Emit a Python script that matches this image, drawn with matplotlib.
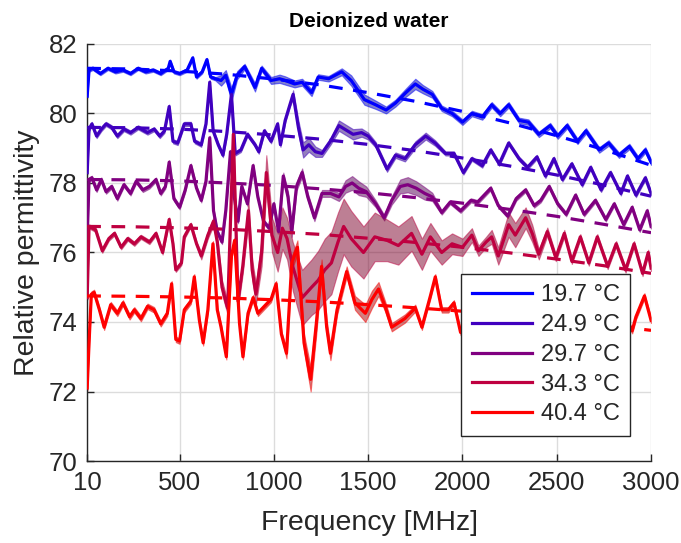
import numpy as np
import matplotlib
matplotlib.use('Agg')
import matplotlib.pyplot as plt
from matplotlib.colors import to_rgb

plt.rcParams['font.family'] = ['Liberation Sans', 'DejaVu Sans']

# temperature labels and line colours (blue -> red)
labels = ['19.7 °C', '24.9 °C', '29.7 °C', '34.3 °C', '40.4 °C']
colors = ['#0000FF', '#4000BF', '#800080', '#BF0040', '#FF0000']

# measured permittivity, 19.7 °C
f_197 = [10, 20, 40, 80, 120, 160, 200, 240, 280, 320, 360, 400, 440, 450, 470, 500, 540, 570, 590, 620,
         645, 665, 690, 720, 745, 775, 805, 845, 900, 935, 985, 1030, 1060, 1110, 1150, 1200, 1235, 1290, 1360, 1410,
         1480, 1540, 1595, 1645, 1700, 1750, 1790, 1840, 1890, 1945, 2000, 2050, 2105, 2155, 2200, 2245, 2300, 2350, 2405, 2465,
         2505, 2555, 2610, 2655, 2725, 2775, 2830, 2885, 2930, 2970, 3000]
e_197 = [80.5, 81.25, 81.3, 81.15, 81.3, 81.2, 81.25, 81.15, 81.3, 81.2, 81.25, 81.15, 81.3, 81.5, 81.2, 81.15, 81.25, 81.6, 81.05, 81.2,
         81.55, 81.05, 81.0, 80.95, 81.1, 80.55, 81.1, 81.35, 80.75, 81.3, 80.95, 81.0, 80.95, 80.85, 80.9, 80.6, 81.05, 81.0, 81.2, 80.95,
         80.4, 80.25, 80.1, 80.3, 80.6, 80.85, 80.7, 80.55, 80.15, 80.0, 79.75, 80.0, 79.9, 80.25, 80.0, 80.25, 79.8, 79.75, 79.4, 79.65,
         79.35, 79.65, 79.2, 79.5, 78.95, 79.15, 78.8, 79.05, 78.7, 78.95, 78.6]
s_197 = [0.05] * 23 + [0.15, 0.15, 0.2, 0.12, 0.08, 0.12, 0.08, 0.1, 0.12, 0.12, 0.1, 0.1, 0.1, 0.08, 0.08,
                       0.1, 0.15, 0.15, 0.12, 0.1, 0.1, 0.12, 0.15, 0.12, 0.1] + [0.08] * 23

# measured permittivity, 24.9 °C
f_249 = [10, 20, 35, 60, 85, 110, 140, 170, 205, 240, 280, 330, 365, 395, 420, 445, 465, 490, 525, 560,
         580, 615, 640, 660, 678, 705, 730, 750, 775, 795, 825, 860, 900, 920, 950, 985, 1020, 1035, 1060, 1085,
         1102, 1130, 1155, 1185, 1220, 1255, 1300, 1345, 1390, 1420, 1465, 1500, 1540, 1600, 1645, 1695, 1750, 1805, 1855, 1910,
         1955, 2005, 2050, 2105, 2150, 2195, 2245, 2300, 2345, 2395, 2440, 2485, 2530, 2580, 2635, 2680, 2735, 2785, 2840, 2875,
         2920, 2970, 3000]
e_249 = [78.3, 79.55, 79.7, 79.35, 79.55, 79.7, 79.6, 79.35, 79.55, 79.45, 79.6, 79.45, 79.55, 79.35, 79.5, 80.2, 79.2, 79.15, 79.7, 79.7,
         79.2, 79.1, 79.7, 80.9, 79.5, 79.1, 78.8, 79.4, 80.55, 78.85, 78.95, 79.4, 79.1, 78.9, 79.5, 79.2, 79.7, 79.1, 79.8, 80.25,
         80.55, 79.6, 78.95, 79.1, 78.9, 78.85, 79.2, 79.65, 79.5, 79.4, 79.45, 79.35, 79.1, 78.4, 78.8, 78.7, 79.1, 79.35, 79.15, 78.85,
         78.85, 78.3, 78.7, 78.5, 78.95, 78.55, 79.15, 78.7, 78.45, 78.75, 78.2, 78.7, 78.1, 78.55, 77.95, 78.45, 77.8, 78.3, 77.7, 78.2,
         77.65, 78.15, 77.7]
s_249 = [0.06] * 40 + [0.12, 0.2, 0.22, 0.2, 0.15, 0.1, 0.1, 0.15, 0.15, 0.15,
                       0.12, 0.1, 0.08, 0.08, 0.08, 0.08, 0.1, 0.1, 0.08, 0.06] + [0.06] * 23

# measured permittivity, 29.7 °C
f_297 = [10, 20, 35, 60, 85, 110, 140, 170, 205, 240, 270, 305, 340, 375, 400, 425, 445, 470, 500, 530,
         560, 590, 615, 640, 660, 680, 700, 725, 745, 770, 790, 810, 830, 860, 890, 915, 945, 975, 1000, 1025,
         1050, 1075, 1095, 1120, 1150, 1180, 1215, 1255, 1300, 1345, 1380, 1415, 1450, 1490, 1540, 1585, 1625, 1670, 1710, 1755,
         1800, 1840, 1890, 1935, 1990, 2045, 2080, 2150, 2190, 2240, 2285, 2335, 2380, 2415, 2460, 2505, 2550, 2600, 2645, 2705,
         2760, 2805, 2855, 2900, 2940, 2980, 3000]
e_297 = [76.4, 78.1, 78.15, 77.8, 78.1, 77.75, 77.9, 77.55, 77.95, 77.7, 78.05, 77.8, 77.9, 78.1, 77.7, 77.9, 78.6, 77.55, 77.3, 77.8,
         78.5, 77.85, 77.5, 78.05, 79.3, 77.2, 76.6, 76.3, 77.2, 78.9, 77.6, 76.9, 77.9, 77.4, 78.5, 77.6, 76.9, 76.7, 77.4, 76.6,
         78.2, 77.6, 76.6, 77.9, 78.3, 77.6, 77.0, 77.7, 77.7, 77.6, 77.9, 78.0, 77.85, 77.75, 77.4, 77.0, 77.5, 77.9, 77.95, 77.85,
         77.7, 77.6, 77.15, 77.45, 77.2, 77.5, 77.45, 77.85, 77.35, 77.05, 77.55, 77.8, 77.35, 77.5, 77.9, 77.4, 77.1, 77.65, 77.1, 77.5,
         76.95, 77.4, 76.8, 77.3, 76.65, 77.2, 76.75]
s_297 = [0.06] * 40 + [0.1, 0.15, 0.15, 0.12, 0.12, 0.1, 0.1, 0.1, 0.1, 0.12,
                       0.18, 0.2, 0.2, 0.15, 0.1, 0.08, 0.12, 0.2, 0.22, 0.2, 0.18, 0.12] + [0.06] * 25

# measured permittivity, 34.3 °C
f_343 = [10, 20, 55, 90, 125, 155, 190, 225, 260, 295, 340, 375, 410, 445, 465, 480, 510, 525, 560, 590,
         615, 650, 680, 700, 725, 755, 785, 810, 835, 865, 885, 905, 935, 960, 990, 1020, 1045, 1070, 1100, 1150,
         1200, 1235, 1270, 1305, 1340, 1370, 1410, 1475, 1535, 1600, 1660, 1730, 1785, 1830, 1890, 1945, 2000, 2050, 2085, 2125,
         2155, 2190, 2245, 2280, 2335, 2370, 2405, 2450, 2495, 2540, 2580, 2625, 2670, 2715, 2770, 2815, 2865, 2910, 2955, 2985,
         3000]
e_343 = [74.7, 76.75, 76.65, 76.05, 76.4, 76.55, 76.15, 76.4, 76.25, 76.45, 76.3, 76.55, 76.0, 76.95, 76.25, 75.5, 75.7, 76.45, 76.8, 76.25,
         75.9, 76.5, 76.9, 76.3, 75.0, 74.4, 79.4, 74.6, 75.6, 77.2, 75.5, 74.8, 76.0, 78.3, 76.5, 76.0, 76.7, 76.4, 75.6, 74.7,
         75.0, 75.2, 75.5, 75.7, 76.3, 76.75, 76.4, 76.0, 76.45, 76.35, 76.2, 76.55, 75.95, 76.45, 76.0, 76.25, 76.15, 76.5, 76.05, 76.3,
         76.45, 75.9, 76.8, 76.5, 77.0, 76.55, 75.95, 76.6, 75.85, 76.55, 75.75, 76.45, 75.7, 76.45, 75.6, 76.25, 75.5, 76.25, 75.4, 76.0,
         75.55]
s_343 = [0.06] * 20 + [0.1, 0.1, 0.12, 0.15, 0.2, 0.2, 0.15, 0.2, 0.2, 0.3,
                       0.3, 0.3, 0.4, 0.5, 0.5, 0.55, 0.6, 0.6, 0.7, 0.8,
                       0.8, 0.85, 0.9, 0.9, 0.85, 0.8, 0.8, 0.75, 0.7, 0.6,
                       0.55, 0.5, 0.45, 0.4, 0.35, 0.3, 0.25, 0.2, 0.15, 0.15,
                       0.2, 0.25, 0.35, 0.35, 0.3, 0.25, 0.15, 0.12, 0.1, 0.1] + [0.08] * 11

# measured permittivity, 40.4 °C
f_404 = [10, 20, 32, 47, 75, 100, 135, 170, 200, 235, 260, 295, 330, 365, 400, 435, 458, 480, 500, 525,
         560, 578, 605, 625, 650, 677, 700, 720, 748, 775, 792, 818, 836, 863, 890, 915, 950, 985, 1012, 1040,
         1067, 1095, 1125, 1160, 1195, 1225, 1253, 1280, 1300, 1335, 1365, 1386, 1430, 1485, 1520, 1555, 1590, 1625, 1695, 1750,
         1785, 1830, 1856, 1890, 1925, 1955, 1990, 2050, 2100, 2150, 2200, 2250, 2300, 2350, 2400, 2450, 2500, 2550, 2600, 2650,
         2700, 2750, 2800, 2850, 2900, 2920, 2965, 3000]
e_404 = [72.1, 73.4, 74.8, 74.85, 74.35, 73.85, 74.5, 74.25, 74.55, 74.15, 74.35, 74.1, 74.45, 74.35, 73.95, 74.25, 75.1, 73.5, 73.45, 74.35,
         74.6, 75.3, 74.05, 73.4, 74.35, 76.25, 74.35, 73.85, 73.0, 75.9, 76.35, 73.95, 73.0, 74.25, 74.7, 74.25, 74.45, 74.65, 75.1, 73.65,
         73.1, 75.7, 76.15, 73.4, 72.35, 73.95, 75.6, 73.85, 73.1, 74.35, 75.0, 75.45, 74.55, 74.25, 74.65, 74.95, 74.45, 73.85, 74.1, 74.4,
         73.85, 74.75, 75.3, 74.35, 74.35, 74.55, 73.7, 74.3, 73.9, 74.4, 74.0, 74.5, 73.9, 74.4, 73.85, 74.45, 73.8, 74.4, 73.8, 74.3,
         73.75, 74.3, 73.7, 74.25, 73.75, 74.15, 74.75, 74.05]
s_404 = [0.08] * 40 + [0.15, 0.2, 0.2, 0.25, 0.35, 0.3, 0.2, 0.2, 0.2, 0.15,
                       0.15, 0.15, 0.2, 0.25, 0.25, 0.2, 0.15, 0.12, 0.12, 0.1] + [0.08] * 28

# model curves (dashed)
f_model = [10, 250, 500, 750, 1000, 1250, 1500, 1750, 2000, 2250, 2500, 2750, 3000]
m_197 = [81.3, 81.28, 81.22, 81.13, 80.99, 80.82, 80.6, 80.35, 80.06, 79.73, 79.36, 78.96, 78.51]
m_249 = [79.6, 79.59, 79.55, 79.48, 79.38, 79.26, 79.11, 78.93, 78.72, 78.49, 78.23, 77.94, 77.62]
m_297 = [78.1, 78.09, 78.06, 78.0, 77.93, 77.83, 77.72, 77.58, 77.42, 77.24, 77.04, 76.81, 76.57]
m_343 = [76.75, 76.74, 76.71, 76.67, 76.6, 76.52, 76.41, 76.29, 76.15, 75.99, 75.81, 75.62, 75.4]
m_404 = [74.75, 74.74, 74.72, 74.69, 74.64, 74.58, 74.5, 74.41, 74.31, 74.19, 74.06, 73.92, 73.76]

measured = [(f_197, e_197, s_197), (f_249, e_249, s_249), (f_297, e_297, s_297),
            (f_343, e_343, s_343), (f_404, e_404, s_404)]
models = [m_197, m_249, m_297, m_343, m_404]

fig = plt.figure(figsize=(6.81, 5.43), dpi=100)
ax = fig.add_axes([0.128, 0.151, 0.828, 0.768])

handles = []
for (f, e, s), m, c, lab in zip(measured, models, colors, labels):
    f = np.array(f)
    e = np.array(e)
    s = np.array(s)
    # uncertainty band in a darker shade of the line colour
    shade = tuple(0.65 * v for v in to_rgb(c))
    ax.fill_between(f, e - s, e + s, facecolor=shade, alpha=0.5, edgecolor=c, linewidth=0.8, zorder=2)
    h, = ax.plot(f, e, color=c, linewidth=2.3, label=lab, zorder=3)
    ax.plot(f_model, m, color=c, linewidth=2.3, dashes=(4.3, 3.3), zorder=3)
    handles.append(h)

ax.set_xlim(10, 3000)
ax.set_ylim(70, 82)
ax.set_xticks([10, 500, 1000, 1500, 2000, 2500, 3000])
ax.set_yticks([70, 72, 74, 76, 78, 80, 82])
ax.grid(True, color='#dcdcdc', linewidth=1.0)
ax.set_axisbelow(True)
for side in ['top', 'right']:
    ax.spines[side].set_visible(False)
for side in ['left', 'bottom']:
    ax.spines[side].set_color('#262626')
    ax.spines[side].set_linewidth(1.0)
ax.tick_params(direction='in', length=5, width=1, colors='#262626', labelsize=18.5, pad=7)

ax.set_xlabel('Frequency [MHz]', fontsize=20.5, color='#262626', labelpad=11)
ax.set_ylabel('Relative permittivity', fontsize=20.5, color='#262626', labelpad=6)
ax.set_title('Deionized water', fontsize=15, fontweight='bold', color='black', pad=12)

leg = ax.legend(handles=handles, loc='lower right', bbox_to_anchor=(0.963, 0.06), borderaxespad=0,
                fontsize=17, handlelength=2.55, labelspacing=0.33, fancybox=False, framealpha=1,
                edgecolor='#262626', borderpad=0.45, handletextpad=0.35)
leg.get_frame().set_linewidth(1.0)
for t in leg.get_texts():
    t.set_color('#262626')

fig.savefig('out.png', dpi=100)
